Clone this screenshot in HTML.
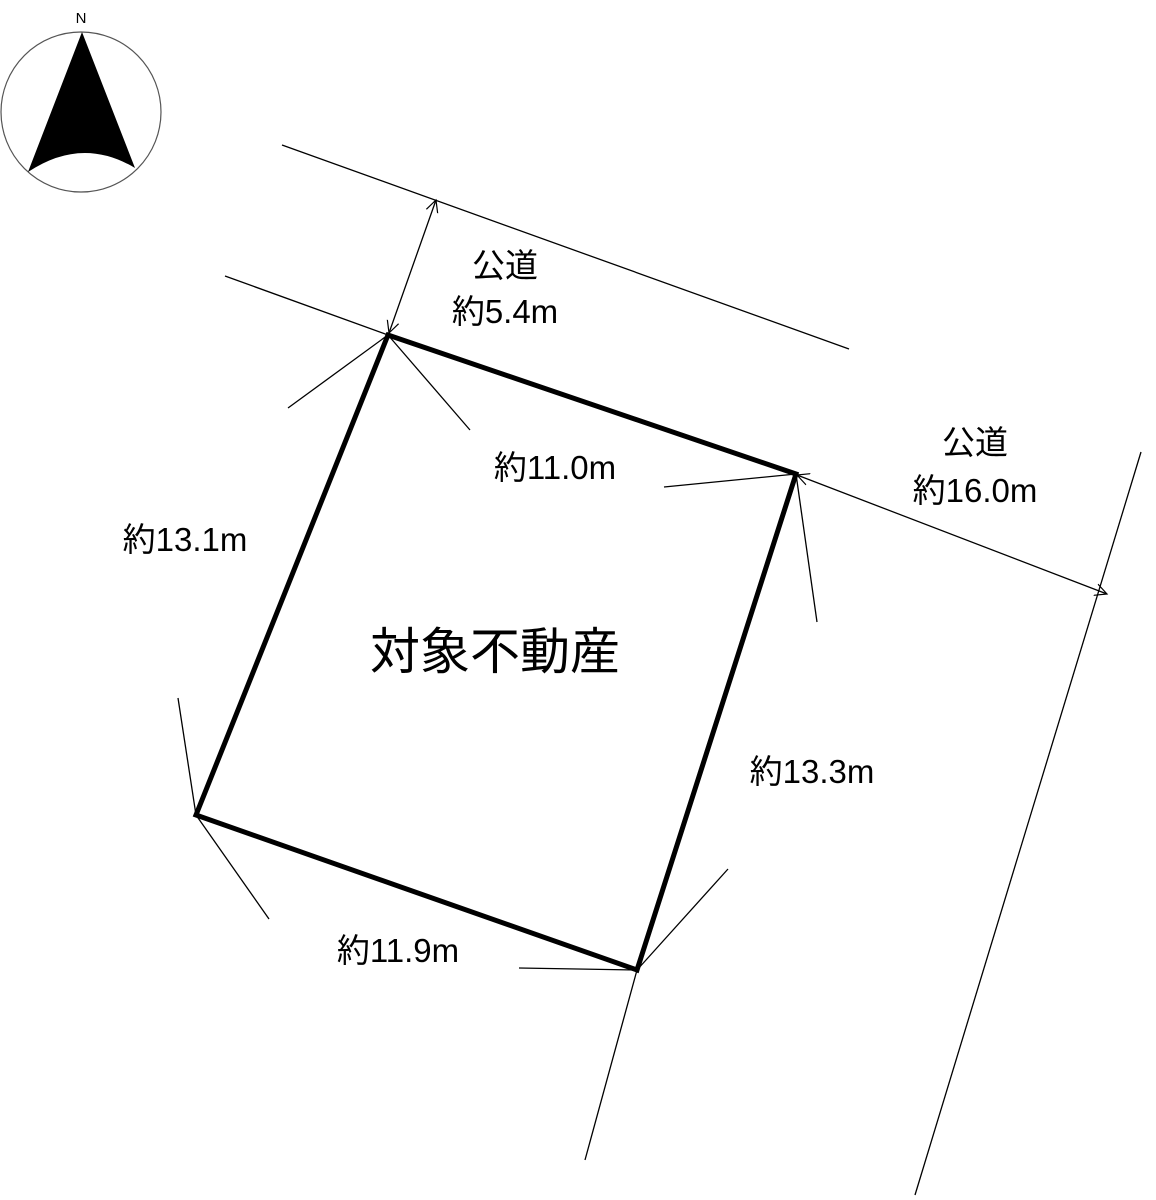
<!DOCTYPE html>
<html><head><meta charset="utf-8"><style>
html,body{margin:0;padding:0;background:#fff;}
svg{display:block;}
text{font-family:"Liberation Sans","Noto Sans CJK JP",sans-serif;fill:#000;}
</style></head><body>
<svg width="1156" height="1200" viewBox="0 0 1156 1200" xmlns="http://www.w3.org/2000/svg">
<defs>
<marker id="a" markerWidth="14" markerHeight="14" refX="12" refY="7" orient="auto-start-reverse" markerUnits="userSpaceOnUse">
<path d="M0,1 L12,7 L0,13" fill="none" stroke="#000" stroke-width="1.2"/>
</marker>
</defs>
<text x="81" y="23" font-size="15" text-anchor="middle">N</text>
<circle cx="81" cy="112" r="80" fill="none" stroke="#555" stroke-width="1.2"/>
<path d="M82,32 L135,168 Q82,136 28,172 Z" fill="#000"/>
<g stroke="#000" stroke-width="1.3" fill="none">
<line x1="282" y1="145" x2="849" y2="349"/>
<line x1="225" y1="276" x2="388" y2="335"/>
<line x1="436" y1="200" x2="389" y2="333" marker-start="url(#a)" marker-end="url(#a)"/>
<line x1="388" y1="335" x2="288" y2="408"/>
<line x1="388" y1="335" x2="470" y2="430"/>
<line x1="796" y1="474" x2="664" y2="487"/>
<line x1="796" y1="474" x2="817" y2="622"/>
<line x1="797" y1="475" x2="1107" y2="594" marker-start="url(#a)" marker-end="url(#a)"/>
<line x1="1141" y1="452" x2="915" y2="1195"/>
<line x1="637" y1="970" x2="585" y2="1160"/>
<line x1="637" y1="970" x2="519" y2="968"/>
<line x1="637" y1="970" x2="728" y2="869"/>
<line x1="196" y1="815" x2="178" y2="698"/>
<line x1="196" y1="815" x2="269" y2="919"/>
</g>
<polygon points="388,335 796,474 637,970 196,815" fill="none" stroke="#000" stroke-width="5" stroke-linejoin="miter"/>
<g font-size="33" text-anchor="middle">
<text x="505" y="277">公道</text>
<text x="505" y="323">約5.4m</text>
<text x="555" y="479">約11.0m</text>
<text x="975" y="454">公道</text>
<text x="975" y="502">約16.0m</text>
<text x="185" y="551">約13.1m</text>
<text x="812" y="783">約13.3m</text>
<text x="398" y="962">約11.9m</text>
</g>
<text x="495" y="669" font-size="50" text-anchor="middle">対象不動産</text>
</svg>
</body></html>
